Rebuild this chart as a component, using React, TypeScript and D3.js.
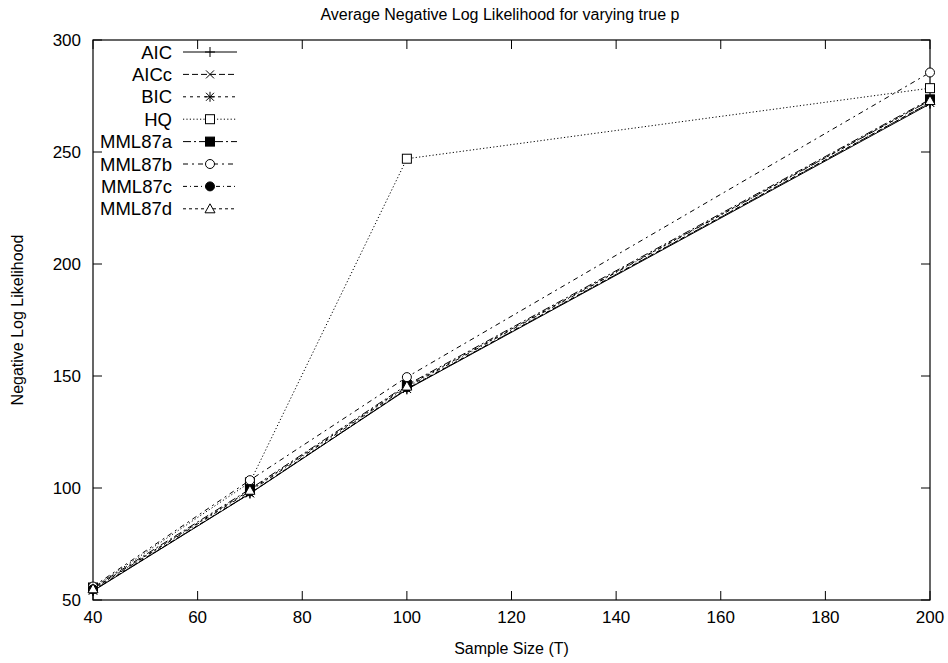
import React from "react";
import * as d3 from "d3";

const sampleSizes = [40, 70, 100, 200];
const seriesNames = ["AIC", "AICc", "BIC", "HQ", "MML87a", "MML87b", "MML87c", "MML87d"];
const aicValues = [54.0, 97.5, 144.0, 271.5];
const aiccValues = [54.2, 97.6, 144.2, 272.0];
const bicValues = [54.3, 97.7, 144.3, 272.0];
const hqValues = [55.5, 102.5, 247.0, 278.5];
const mml87aValues = [55.5, 99.5, 146.0, 273.5];
const mml87bValues = [56.0, 103.5, 149.5, 285.5];
const mml87cValues = [54.8, 98.5, 145.0, 273.0];
const mml87dValues = [55.0, 99.0, 145.5, 273.0];
const xTicks = [40, 60, 80, 100, 120, 140, 160, 180, 200];
const yTicks = [50, 100, 150, 200, 250, 300];

const allValues = [aicValues, aiccValues, bicValues, hqValues, mml87aValues, mml87bValues, mml87cValues, mml87dValues];
const dashes = ["", "6 3", "3 4", "1.2 2.2", "8 3 2 3", "5 4 2 4", "4 3 1 3", "3 3"];
const markers = ["plus", "cross", "star", "square", "squareFilled", "circle", "circleFilled", "triangle"];

const W = 948, H = 663;
const left = 93, right = 930, top = 40, bottom = 600;

function Marker({ type, x, y }: { type: string; x: number; y: number }) {
  const s = 5;
  const st = { stroke: "#000", strokeWidth: 1 };
  switch (type) {
    case "plus":
      return <path d={`M${x - s},${y}H${x + s}M${x},${y - s}V${y + s}`} {...st} fill="none" />;
    case "cross":
      return <path d={`M${x - 4},${y - 4}L${x + 4},${y + 4}M${x - 4},${y + 4}L${x + 4},${y - 4}`} {...st} fill="none" />;
    case "star":
      return <path d={`M${x - s},${y}H${x + s}M${x},${y - s}V${y + s}M${x - 4},${y - 4}L${x + 4},${y + 4}M${x - 4},${y + 4}L${x + 4},${y - 4}`} {...st} fill="none" />;
    case "square":
      return <rect x={x - 4.5} y={y - 4.5} width={9} height={9} fill="#fff" {...st} />;
    case "squareFilled":
      return <rect x={x - 4.5} y={y - 4.5} width={9} height={9} fill="#000" {...st} />;
    case "circle":
      return <circle cx={x} cy={y} r={4.5} fill="#fff" {...st} />;
    case "circleFilled":
      return <circle cx={x} cy={y} r={4.5} fill="#000" {...st} />;
    default:
      return <path d={`M${x},${y - 5}L${x + 5},${y + 4}L${x - 5},${y + 4}Z`} fill="#fff" {...st} />;
  }
}

export default function App() {
  const xScale = d3.scaleLinear().domain([40, 200]).range([left, right]);
  const yScale = d3.scaleLinear().domain([50, 300]).range([bottom, top]);
  const line = d3.line<number>().x((_, i) => xScale(sampleSizes[i])).y((d) => yScale(d));
  const font = "'Liberation Sans', Arial, Helvetica, sans-serif";
  const legendY0 = 52, legendStep = 22.4;
  return (
    <svg width={W} height={H} style={{ position: "absolute", left: 0, top: 0, background: "#fff" }} fontFamily={font}>
      <rect width={W} height={H} fill="#fff" />
      <text x={500} y={20} textAnchor="middle" fontSize={16}>Average Negative Log Likelihood for varying true p</text>
      {/* ticks */}
      {yTicks.map((t) => (
        <g key={"y" + t}>
          <line x1={left} x2={left + 9} y1={yScale(t)} y2={yScale(t)} stroke="#000" />
          <line x1={right} x2={right - 9} y1={yScale(t)} y2={yScale(t)} stroke="#000" />
          <text x={left - 12} y={yScale(t) + 6} textAnchor="end" fontSize={17}>{t}</text>
        </g>
      ))}
      {xTicks.map((t) => (
        <g key={"x" + t}>
          <line x1={xScale(t)} x2={xScale(t)} y1={bottom} y2={bottom - 9} stroke="#000" />
          <line x1={xScale(t)} x2={xScale(t)} y1={top} y2={top + 9} stroke="#000" />
          <text x={xScale(t)} y={bottom + 23} textAnchor="middle" fontSize={17}>{t}</text>
        </g>
      ))}
      <rect x={left} y={top} width={right - left} height={bottom - top} fill="none" stroke="#000" strokeWidth={1.2} />
      <text x={(left + right) / 2} y={654} textAnchor="middle" fontSize={16}>Sample Size (T)</text>
      <text transform={`translate(23,${(top + bottom) / 2}) rotate(-90)`} textAnchor="middle" fontSize={16}>Negative Log Likelihood</text>
      {/* series */}
      {allValues.map((vals, k) => (
        <g key={seriesNames[k]}>
          <path d={line(vals) || ""} fill="none" stroke="#000" strokeWidth={1} strokeDasharray={dashes[k] || undefined} />
          {vals.map((v, i) => (
            <Marker key={i} type={markers[k]} x={xScale(sampleSizes[i])} y={yScale(v)} />
          ))}
        </g>
      ))}
      {/* legend */}
      {seriesNames.map((n, k) => {
        const y = legendY0 + k * legendStep;
        return (
          <g key={"lg" + n}>
            <text x={172} y={y + 6.5} textAnchor="end" fontSize={18.5}>{n}</text>
            <line x1={183} x2={237} y1={y} y2={y} stroke="#000" strokeDasharray={dashes[k] || undefined} />
            <Marker type={markers[k]} x={210} y={y} />
          </g>
        );
      })}
    </svg>
  );
}
